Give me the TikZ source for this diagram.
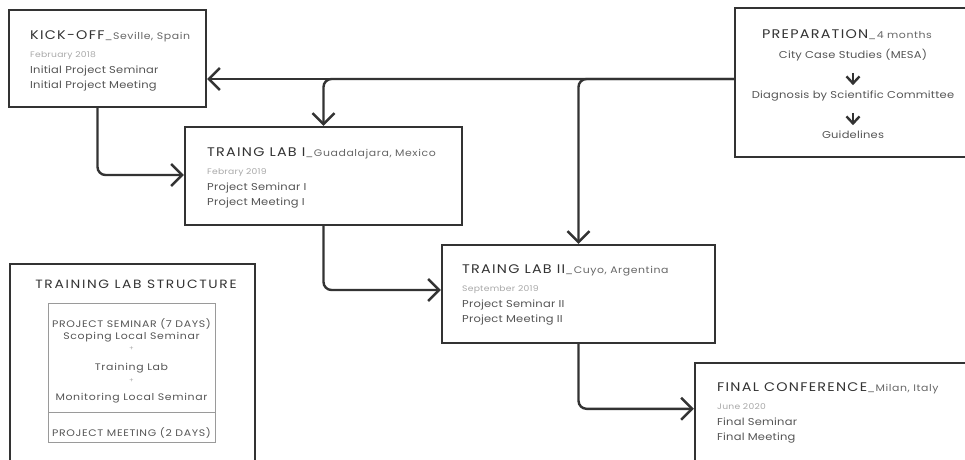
\documentclass[tikz,border=0pt]{standalone}
\usepackage{fontspec}
\setmainfont{Poppins}[FakeStretch=1.15]
\usetikzlibrary{
    positioning,
    arrows.meta
}

\definecolor{ink}{HTML}{333333}
\definecolor{bodygray}{HTML}{555555}
\definecolor{placegray}{HTML}{666666}
\definecolor{dategray}{HTML}{A8A8A8}
\definecolor{thingray}{HTML}{9A9A9A}

% title of a stage, with the place written small after it
\newcommand{\stagetitle}[2]{{\fontsize{12.5}{15}\selectfont\addfontfeature{LetterSpace=10}\color{ink}#1}{\fontsize{9.5}{15}\selectfont\addfontfeature{LetterSpace=6}\color{placegray}\_#2}}
\newcommand{\stagedate}[1]{{\fontsize{8}{15}\selectfont\addfontfeature{LetterSpace=3}\color{dategray}#1}}

\begin{document}
\begin{tikzpicture}[
    x=1pt, y=-1pt,
    stagebox/.style={
        rectangle, draw=ink, line width=2.4pt, inner sep=0pt
    },
    stagetext/.style={
        anchor=base west, align=left, inner sep=0pt, text=bodygray,
        font=\fontsize{10}{15}\selectfont\addfontfeature{LetterSpace=2}
    },
    preptext/.style={
        anchor=base, inner sep=0pt, text=bodygray,
        font=\fontsize{10}{12}\selectfont\addfontfeature{LetterSpace=2}
    },
    thinbox/.style={
        rectangle, draw=thingray, line width=0.8pt, inner sep=0pt
    },
    arr/.style={-{Straight Barb[length=11pt,width=22pt]}, line width=2.4pt, draw=ink, rounded corners=8pt},
    smallarr/.style={-{Straight Barb[length=7pt,width=13pt]}, line width=2.4pt, draw=ink}
]
\clip (0,0) rectangle (965,459);

% Stages
\node[stagebox, minimum width=197pt, minimum height=97pt] (kickoff) at (107.5,58.5) {};
\node[stagebox, minimum width=232pt, minimum height=149pt] (prep) at (851,82.5) {};
\node[stagebox, minimum width=277pt, minimum height=98pt] (lab1) at (323.5,176) {};
\node[stagebox, minimum width=273pt, minimum height=98pt] (lab2) at (578.5,294) {};
\node[stagebox, minimum width=275pt, minimum height=107pt] (final) at (832.5,416.5) {};

% texts sit on the baseline of their last line
\node[stagetext] (kickoff_txt) at (30,88)
    {\stagetitle{KICK-OFF}{Seville, Spain}\\[3pt]
     \stagedate{February 2018}\\[1pt]
     Initial Project Seminar\\
     Initial Project Meeting};
\node[stagetext] (lab1_txt) at (207,205)
    {\stagetitle{TRAING LAB I}{Guadalajara, Mexico}\\[3pt]
     \stagedate{Febrary 2019}\\[1pt]
     Project Seminar I\\
     Project Meeting I};
\node[stagetext] (lab2_txt) at (462,322)
    {\stagetitle{TRAING LAB II}{Cuyo, Argentina}\\[3pt]
     \stagedate{September 2019}\\[1pt]
     Project Seminar II\\
     Project Meeting II};
\node[stagetext] (final_txt) at (717,440)
    {\stagetitle{FINAL CONFERENCE}{Milan, Italy}\\[3pt]
     \stagedate{June 2020}\\[1pt]
     Final Seminar\\
     Final Meeting};

% Preparation steps
\node[preptext] (prep_head) at (847,38) {\stagetitle{PREPARATION}{4 months}};
\node[preptext] (prep_case) at (853,58) {City Case Studies (MESA)};
\node[preptext] (prep_diag) at (853,98) {Diagnosis by Scientific Committee};
\node[preptext] (prep_guide) at (853,138) {Guidelines};

% Training lab structure
\node[stagebox, minimum width=245pt, minimum height=206pt] (structure) at (132.5,367) {};
\node[anchor=base, inner sep=0pt, text=ink, font=\fontsize{12}{14}\selectfont\addfontfeature{LetterSpace=14}]
    (structure_head) at (136,288) {TRAINING LAB STRUCTURE};
\node[thinbox, minimum width=167pt, minimum height=109pt] (seminar) at (131.5,357.5) {};
\node[thinbox, minimum width=167pt, minimum height=30pt] (meeting) at (131.5,427) {};
\node[anchor=base, align=center, inner sep=0pt, text=bodygray,
      font=\fontsize{9.5}{12}\selectfont\addfontfeature{LetterSpace=7}]
    (seminar_txt) at (131.5,400)
    {PROJECT SEMINAR (7 DAYS)\\
     Scoping Local Seminar\\[-1pt]
     {\fontsize{6}{12}\selectfont\color{dategray}+}\\[8pt]
     Training Lab\\
     {\fontsize{6}{12}\selectfont\color{dategray}+}\\[6pt]
     Monitoring Local Seminar};
\node[anchor=base, inner sep=0pt, text=bodygray,
      font=\fontsize{9.5}{12}\selectfont\addfontfeature{LetterSpace=7}]
    (meeting_txt) at (131.5,436) {PROJECT MEETING (2 DAYS)};

% ------------------------------- Arrows --------------------------------------
\coordinate (hub) at ([yshift=3.5pt]prep.west);
\draw[arr] (hub) -- (hub -| kickoff.east);
\draw[arr] (hub) -| (lab1.north);
\draw[arr] (hub) -| (lab2.north);

\draw[arr] ([xshift=-10pt]kickoff.south) |- ([yshift=1pt]lab1.west);
\draw[arr] (lab1.south) |- ([yshift=4pt]lab2.west);
\draw[arr] (lab2.south) |- ([yshift=-47pt]final.north west);

\draw[smallarr, shorten <=12pt, shorten >=5pt] (prep_case) -- (prep_diag);
\draw[smallarr, shorten <=12pt, shorten >=5pt] (prep_diag) -- (prep_guide);

\end{tikzpicture}
\end{document}
